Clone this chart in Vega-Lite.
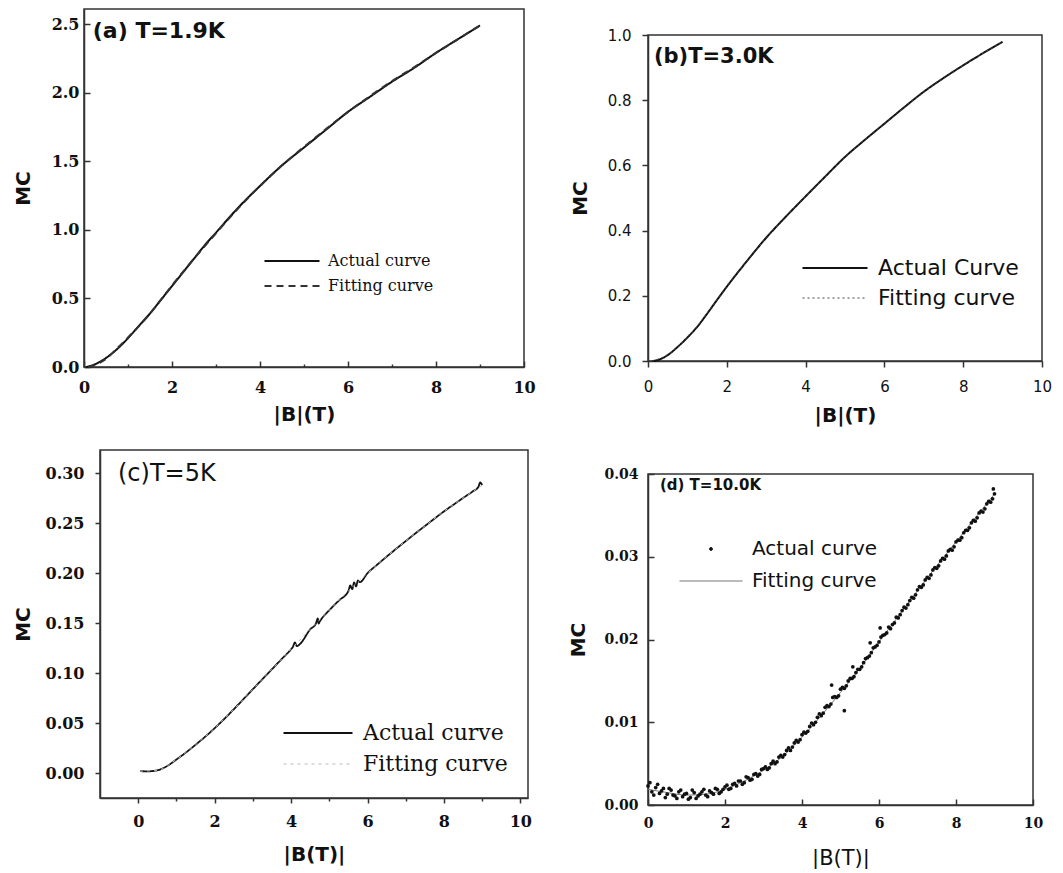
{
"$schema":"https://vega.github.io/schema/vega-lite/v6.json",
"background":"white",
"padding":{"left":11,"top":8,"right":0,"bottom":0},
"config":{"view":{"stroke":"#333","strokeWidth":1.5},"axis":{"grid":false,"domainColor":"#333","domainWidth":1.5,"tickColor":"#333","tickWidth":1.5,"labelColor":"#111","titleColor":"#111","labelFlush":false,"labelOverlap":false},"legend":{"padding":0}},
"datasets":{
"a":[
{"B":0.05,"MC":0,"s":"Actual curve"},{"B":0.25,"MC":0.02,"s":"Actual curve"},{"B":0.5,"MC":0.066,"s":"Actual curve"},{"B":0.75,"MC":0.13,"s":"Actual curve"},{"B":1,"MC":0.21,"s":"Actual curve"},{"B":1.25,"MC":0.30,"s":"Actual curve"},{"B":1.5,"MC":0.39,"s":"Actual curve"},{"B":1.75,"MC":0.49,"s":"Actual curve"},{"B":2,"MC":0.59,"s":"Actual curve"},{"B":2.25,"MC":0.69,"s":"Actual curve"},{"B":2.5,"MC":0.79,"s":"Actual curve"},{"B":2.75,"MC":0.89,"s":"Actual curve"},{"B":3,"MC":0.98,"s":"Actual curve"},{"B":3.5,"MC":1.16,"s":"Actual curve"},{"B":4,"MC":1.32,"s":"Actual curve"},{"B":4.5,"MC":1.47,"s":"Actual curve"},{"B":5,"MC":1.60,"s":"Actual curve"},{"B":5.5,"MC":1.73,"s":"Actual curve"},{"B":6,"MC":1.86,"s":"Actual curve"},{"B":6.5,"MC":1.97,"s":"Actual curve"},{"B":7,"MC":2.08,"s":"Actual curve"},{"B":7.5,"MC":2.18,"s":"Actual curve"},{"B":8,"MC":2.29,"s":"Actual curve"},{"B":8.5,"MC":2.39,"s":"Actual curve"},{"B":9,"MC":2.49,"s":"Actual curve"},
{"B":0.1,"MC":0,"s":"Fitting curve"},{"B":0.25,"MC":0.015,"s":"Fitting curve"},{"B":0.5,"MC":0.06,"s":"Fitting curve"},{"B":0.75,"MC":0.135,"s":"Fitting curve"},{"B":1,"MC":0.215,"s":"Fitting curve"},{"B":1.5,"MC":0.39,"s":"Fitting curve"},{"B":2,"MC":0.595,"s":"Fitting curve"},{"B":2.5,"MC":0.79,"s":"Fitting curve"},{"B":3,"MC":0.975,"s":"Fitting curve"},{"B":3.5,"MC":1.155,"s":"Fitting curve"},{"B":4,"MC":1.32,"s":"Fitting curve"},{"B":4.5,"MC":1.47,"s":"Fitting curve"},{"B":5,"MC":1.605,"s":"Fitting curve"},{"B":5.5,"MC":1.735,"s":"Fitting curve"},{"B":6,"MC":1.86,"s":"Fitting curve"},{"B":6.5,"MC":1.975,"s":"Fitting curve"},{"B":7,"MC":2.085,"s":"Fitting curve"},{"B":7.5,"MC":2.185,"s":"Fitting curve"},{"B":8,"MC":2.29,"s":"Fitting curve"},{"B":8.5,"MC":2.39,"s":"Fitting curve"},{"B":9,"MC":2.49,"s":"Fitting curve"}
],
"b":[
{"B":0.1,"MC":0,"s":"Actual Curve"},{"B":0.25,"MC":0.003,"s":"Actual Curve"},{"B":0.5,"MC":0.018,"s":"Actual Curve"},{"B":0.75,"MC":0.043,"s":"Actual Curve"},{"B":1,"MC":0.072,"s":"Actual Curve"},{"B":1.25,"MC":0.105,"s":"Actual Curve"},{"B":1.5,"MC":0.145,"s":"Actual Curve"},{"B":1.75,"MC":0.187,"s":"Actual Curve"},{"B":2,"MC":0.228,"s":"Actual Curve"},{"B":2.5,"MC":0.305,"s":"Actual Curve"},{"B":3,"MC":0.378,"s":"Actual Curve"},{"B":3.5,"MC":0.443,"s":"Actual Curve"},{"B":4,"MC":0.505,"s":"Actual Curve"},{"B":4.5,"MC":0.566,"s":"Actual Curve"},{"B":5,"MC":0.626,"s":"Actual Curve"},{"B":5.5,"MC":0.678,"s":"Actual Curve"},{"B":6,"MC":0.728,"s":"Actual Curve"},{"B":6.5,"MC":0.778,"s":"Actual Curve"},{"B":7,"MC":0.826,"s":"Actual Curve"},{"B":7.5,"MC":0.868,"s":"Actual Curve"},{"B":8,"MC":0.907,"s":"Actual Curve"},{"B":8.5,"MC":0.944,"s":"Actual Curve"},{"B":9,"MC":0.979,"s":"Actual Curve"},
{"B":0.1,"MC":0,"s":"Fitting curve"},{"B":0.5,"MC":0.019,"s":"Fitting curve"},{"B":1,"MC":0.073,"s":"Fitting curve"},{"B":1.5,"MC":0.146,"s":"Fitting curve"},{"B":2,"MC":0.229,"s":"Fitting curve"},{"B":2.5,"MC":0.305,"s":"Fitting curve"},{"B":3,"MC":0.378,"s":"Fitting curve"},{"B":3.5,"MC":0.443,"s":"Fitting curve"},{"B":4,"MC":0.505,"s":"Fitting curve"},{"B":4.5,"MC":0.566,"s":"Fitting curve"},{"B":5,"MC":0.626,"s":"Fitting curve"},{"B":5.5,"MC":0.678,"s":"Fitting curve"},{"B":6,"MC":0.728,"s":"Fitting curve"},{"B":6.5,"MC":0.778,"s":"Fitting curve"},{"B":7,"MC":0.826,"s":"Fitting curve"},{"B":7.5,"MC":0.868,"s":"Fitting curve"},{"B":8,"MC":0.907,"s":"Fitting curve"},{"B":8.5,"MC":0.944,"s":"Fitting curve"},{"B":9,"MC":0.979,"s":"Fitting curve"}
],
"c":[
{"B":0.05,"MC":0.0018,"s":"Actual curve"},{"B":0.25,"MC":0.0017,"s":"Actual curve"},{"B":0.5,"MC":0.0027,"s":"Actual curve"},{"B":0.75,"MC":0.0068,"s":"Actual curve"},{"B":1,"MC":0.0135,"s":"Actual curve"},{"B":1.25,"MC":0.0205,"s":"Actual curve"},{"B":1.5,"MC":0.0282,"s":"Actual curve"},{"B":1.75,"MC":0.0362,"s":"Actual curve"},{"B":2,"MC":0.0448,"s":"Actual curve"},{"B":2.25,"MC":0.054,"s":"Actual curve"},{"B":2.5,"MC":0.0637,"s":"Actual curve"},{"B":2.75,"MC":0.0737,"s":"Actual curve"},{"B":3,"MC":0.0838,"s":"Actual curve"},{"B":3.25,"MC":0.0938,"s":"Actual curve"},{"B":3.5,"MC":0.1038,"s":"Actual curve"},{"B":3.75,"MC":0.1138,"s":"Actual curve"},{"B":4,"MC":0.1238,"s":"Actual curve"},{"B":4.05,"MC":0.1262,"s":"Actual curve"},{"B":4.1,"MC":0.1305,"s":"Actual curve"},{"B":4.15,"MC":0.1268,"s":"Actual curve"},{"B":4.25,"MC":0.1297,"s":"Actual curve"},{"B":4.5,"MC":0.1437,"s":"Actual curve"},{"B":4.65,"MC":0.1495,"s":"Actual curve"},{"B":4.7,"MC":0.1545,"s":"Actual curve"},{"B":4.72,"MC":0.1495,"s":"Actual curve"},{"B":4.75,"MC":0.1515,"s":"Actual curve"},{"B":5,"MC":0.1628,"s":"Actual curve"},{"B":5.25,"MC":0.1724,"s":"Actual curve"},{"B":5.5,"MC":0.182,"s":"Actual curve"},{"B":5.55,"MC":0.1875,"s":"Actual curve"},{"B":5.6,"MC":0.1838,"s":"Actual curve"},{"B":5.65,"MC":0.1905,"s":"Actual curve"},{"B":5.7,"MC":0.1865,"s":"Actual curve"},{"B":5.75,"MC":0.1925,"s":"Actual curve"},{"B":5.8,"MC":0.1908,"s":"Actual curve"},{"B":6,"MC":0.1998,"s":"Actual curve"},{"B":6.25,"MC":0.2082,"s":"Actual curve"},{"B":6.5,"MC":0.2163,"s":"Actual curve"},{"B":6.75,"MC":0.2242,"s":"Actual curve"},{"B":7,"MC":0.2319,"s":"Actual curve"},{"B":7.25,"MC":0.2395,"s":"Actual curve"},{"B":7.5,"MC":0.2469,"s":"Actual curve"},{"B":7.75,"MC":0.2543,"s":"Actual curve"},{"B":8,"MC":0.2616,"s":"Actual curve"},{"B":8.25,"MC":0.2683,"s":"Actual curve"},{"B":8.5,"MC":0.275,"s":"Actual curve"},{"B":8.75,"MC":0.2815,"s":"Actual curve"},{"B":8.9,"MC":0.286,"s":"Actual curve"},{"B":8.95,"MC":0.2905,"s":"Actual curve"},{"B":9,"MC":0.2878,"s":"Actual curve"},
{"B":0.05,"MC":0.0018,"s":"Fitting curve"},{"B":0.5,"MC":0.0027,"s":"Fitting curve"},{"B":1,"MC":0.0135,"s":"Fitting curve"},{"B":1.5,"MC":0.0282,"s":"Fitting curve"},{"B":2,"MC":0.0448,"s":"Fitting curve"},{"B":2.5,"MC":0.0637,"s":"Fitting curve"},{"B":3,"MC":0.0838,"s":"Fitting curve"},{"B":3.5,"MC":0.1038,"s":"Fitting curve"},{"B":4,"MC":0.1238,"s":"Fitting curve"},{"B":4.5,"MC":0.1437,"s":"Fitting curve"},{"B":5,"MC":0.1628,"s":"Fitting curve"},{"B":5.5,"MC":0.182,"s":"Fitting curve"},{"B":6,"MC":0.1998,"s":"Fitting curve"},{"B":6.5,"MC":0.2163,"s":"Fitting curve"},{"B":7,"MC":0.2319,"s":"Fitting curve"},{"B":7.5,"MC":0.2469,"s":"Fitting curve"},{"B":8,"MC":0.2616,"s":"Fitting curve"},{"B":8.5,"MC":0.275,"s":"Fitting curve"},{"B":9,"MC":0.2875,"s":"Fitting curve"}
],
"dfit":[
{"B":0,"MC":0.0019,"s":"Fitting curve"},{"B":0.5,"MC":0.0015,"s":"Fitting curve"},{"B":1,"MC":0.0012,"s":"Fitting curve"},{"B":1.5,"MC":0.0013,"s":"Fitting curve"},{"B":2,"MC":0.0019,"s":"Fitting curve"},{"B":2.5,"MC":0.0029,"s":"Fitting curve"},{"B":3,"MC":0.0042,"s":"Fitting curve"},{"B":3.5,"MC":0.0059,"s":"Fitting curve"},{"B":4,"MC":0.0082,"s":"Fitting curve"},{"B":4.5,"MC":0.0108,"s":"Fitting curve"},{"B":5,"MC":0.0136,"s":"Fitting curve"},{"B":5.5,"MC":0.0165,"s":"Fitting curve"},{"B":6,"MC":0.0197,"s":"Fitting curve"},{"B":6.5,"MC":0.0228,"s":"Fitting curve"},{"B":7,"MC":0.0259,"s":"Fitting curve"},{"B":7.5,"MC":0.0289,"s":"Fitting curve"},{"B":8,"MC":0.0318,"s":"Fitting curve"},{"B":8.5,"MC":0.0347,"s":"Fitting curve"},{"B":9,"MC":0.0376,"s":"Fitting curve"}
],
"dact":[
{"B":0,"MC":0.0023},{"B":0.1,"MC":0.0016},{"B":0.2,"MC":0.0021},{"B":0.3,"MC":0.0014},{"B":0.4,"MC":0.002},{"B":0.5,"MC":0.0013},{"B":0.6,"MC":0.0018},{"B":0.7,"MC":0.0011},{"B":0.8,"MC":0.0016},{"B":0.9,"MC":0.001},{"B":1,"MC":0.0014},{"B":1.1,"MC":0.0009},{"B":1.2,"MC":0.0015},{"B":1.3,"MC":0.0011},{"B":1.4,"MC":0.0016},{"B":1.5,"MC":0.0012},{"B":1.6,"MC":0.0017},{"B":1.7,"MC":0.0013},{"B":1.8,"MC":0.0019},{"B":1.9,"MC":0.0016},{"B":2,"MC":0.0022},{"B":2.1,"MC":0.0019},{"B":2.2,"MC":0.0025},{"B":2.3,"MC":0.0023},{"B":2.4,"MC":0.0029},{"B":2.5,"MC":0.0027},{"B":2.6,"MC":0.0033},{"B":2.7,"MC":0.0031},{"B":2.8,"MC":0.0038},{"B":2.9,"MC":0.0037},{"B":3,"MC":0.0044},{"B":3.1,"MC":0.0043},{"B":3.2,"MC":0.005},{"B":3.3,"MC":0.005},{"B":3.4,"MC":0.0058},{"B":3.5,"MC":0.0058},{"B":3.6,"MC":0.0066},{"B":3.7,"MC":0.0066},{"B":3.8,"MC":0.0075},{"B":3.9,"MC":0.0076},{"B":4,"MC":0.0085},{"B":4.1,"MC":0.0087},{"B":4.2,"MC":0.0095},{"B":4.3,"MC":0.0097},{"B":4.4,"MC":0.0106},{"B":4.5,"MC":0.0108},{"B":4.6,"MC":0.0118},{"B":4.7,"MC":0.0119},{"B":4.8,"MC":0.013},{"B":4.9,"MC":0.013},{"B":5,"MC":0.014},{"B":5.1,"MC":0.0141},{"B":5.2,"MC":0.015},{"B":5.3,"MC":0.0153},{"B":5.4,"MC":0.016},{"B":5.5,"MC":0.0164},{"B":5.6,"MC":0.0172},{"B":5.7,"MC":0.0178},{"B":5.8,"MC":0.0184},{"B":5.9,"MC":0.0191},{"B":6,"MC":0.0197},{"B":6.1,"MC":0.0205},{"B":6.2,"MC":0.0208},{"B":6.3,"MC":0.0213},{"B":6.4,"MC":0.022},{"B":6.5,"MC":0.0226},{"B":6.6,"MC":0.0235},{"B":6.7,"MC":0.0238},{"B":6.8,"MC":0.0247},{"B":6.9,"MC":0.025},{"B":7,"MC":0.026},{"B":7.1,"MC":0.0263},{"B":7.2,"MC":0.0272},{"B":7.3,"MC":0.0274},{"B":7.4,"MC":0.0284},{"B":7.5,"MC":0.0286},{"B":7.6,"MC":0.0295},{"B":7.7,"MC":0.0297},{"B":7.8,"MC":0.0307},{"B":7.9,"MC":0.0308},{"B":8,"MC":0.0318},{"B":8.1,"MC":0.032},{"B":8.2,"MC":0.0329},{"B":8.3,"MC":0.0332},{"B":8.4,"MC":0.0341},{"B":8.5,"MC":0.0343},{"B":8.6,"MC":0.0353},{"B":8.7,"MC":0.0354},{"B":8.8,"MC":0.0364},{"B":8.9,"MC":0.0366},{"B":9,"MC":0.0376},
{"B":0.05,"MC":0.0027},{"B":0.15,"MC":0.0012},{"B":0.25,"MC":0.0025},{"B":0.35,"MC":0.0017},{"B":0.45,"MC":0.0009},{"B":0.55,"MC":0.002},{"B":0.65,"MC":0.0012},{"B":0.75,"MC":0.0008},{"B":0.85,"MC":0.0018},{"B":0.95,"MC":0.0013},{"B":1.05,"MC":0.0007},{"B":1.15,"MC":0.0018},{"B":1.25,"MC":0.0008},{"B":1.35,"MC":0.0013},{"B":1.45,"MC":0.0019},{"B":1.55,"MC":0.001},{"B":1.65,"MC":0.0015},{"B":1.75,"MC":0.002},{"B":1.85,"MC":0.0014},{"B":1.95,"MC":0.0019},{"B":2.05,"MC":0.0024},{"B":2.15,"MC":0.002},{"B":2.25,"MC":0.0026},{"B":2.35,"MC":0.0029},{"B":2.45,"MC":0.0025},{"B":2.55,"MC":0.0034},{"B":2.65,"MC":0.003},{"B":2.75,"MC":0.0037},{"B":2.85,"MC":0.0035},{"B":2.95,"MC":0.0043},
{"B":3.05,"MC":0.0046},{"B":3.15,"MC":0.0045},{"B":3.25,"MC":0.0053},{"B":3.35,"MC":0.0052},{"B":3.45,"MC":0.006},{"B":3.55,"MC":0.0061},{"B":3.65,"MC":0.0069},{"B":3.75,"MC":0.007},{"B":3.85,"MC":0.0078},{"B":3.95,"MC":0.0079},{"B":4.05,"MC":0.0088},{"B":4.15,"MC":0.0089},{"B":4.25,"MC":0.0099},{"B":4.35,"MC":0.01},{"B":4.45,"MC":0.011},{"B":4.55,"MC":0.0111},{"B":4.65,"MC":0.012},{"B":4.75,"MC":0.0122},{"B":4.85,"MC":0.0131},{"B":4.95,"MC":0.0132},{"B":5.05,"MC":0.0142},{"B":5.15,"MC":0.0144},{"B":5.25,"MC":0.0153},{"B":5.35,"MC":0.0155},{"B":5.45,"MC":0.0164},{"B":5.55,"MC":0.0167},{"B":5.65,"MC":0.0177},{"B":5.75,"MC":0.018},{"B":5.85,"MC":0.019},{"B":5.95,"MC":0.0193},{"B":6.05,"MC":0.0203},{"B":6.15,"MC":0.0206},{"B":6.25,"MC":0.0215},{"B":6.35,"MC":0.0218},{"B":6.45,"MC":0.0227},{"B":6.55,"MC":0.023},{"B":6.65,"MC":0.0239},{"B":6.75,"MC":0.0242},{"B":6.85,"MC":0.0251},{"B":6.95,"MC":0.0254},{"B":7.05,"MC":0.0264},{"B":7.15,"MC":0.0266},{"B":7.25,"MC":0.0275},{"B":7.35,"MC":0.0278},{"B":7.45,"MC":0.0287},{"B":7.55,"MC":0.0289},{"B":7.65,"MC":0.0298},{"B":7.75,"MC":0.0301},{"B":7.85,"MC":0.0309},{"B":7.95,"MC":0.0312},{"B":8.05,"MC":0.032},{"B":8.15,"MC":0.0323},{"B":8.25,"MC":0.0332},{"B":8.35,"MC":0.0335},{"B":8.45,"MC":0.0344},{"B":8.55,"MC":0.0347},{"B":8.65,"MC":0.0355},{"B":8.75,"MC":0.0358},{"B":8.85,"MC":0.0367},{"B":8.95,"MC":0.037},
{"B":4.77,"MC":0.0145},{"B":5.1,"MC":0.0114},{"B":5.32,"MC":0.0167},{"B":5.77,"MC":0.0196},{"B":6.03,"MC":0.0214},{"B":8.97,"MC":0.0382}
],
"blank":[{"k":0}]
},
"resolve":{"scale":{"x":"independent","y":"independent","color":"independent","strokeDash":"independent","strokeWidth":"independent"},"axis":{"x":"independent","y":"independent"},"legend":{"color":"independent","strokeDash":"independent"}},
"spacing":23,
"vconcat":[
{"spacing":0,
 "resolve":{"scale":{"x":"independent","y":"independent","color":"independent","strokeDash":"independent","strokeWidth":"independent"},"axis":{"x":"independent","y":"independent"},"legend":{"color":"independent","strokeDash":"independent"}},
 "hconcat":[
{"width":1,"height":20,"data":{"name":"blank"},"mark":{"type":"text","text":""},"view":{"stroke":null}},
{"resolve":{"scale":{"x":"independent","y":"independent","color":"independent","strokeDash":"independent","strokeWidth":"independent"},"axis":{"x":"independent","y":"independent"},"legend":{"color":"independent","strokeDash":"independent"}},
 "spacing":33,
 "hconcat":[
{"width":440,"height":358,
 "layer":[
 {"data":{"name":"a"},
  "mark":{"type":"line","strokeWidth":2,"interpolate":"monotone"},
  "encoding":{
   "x":{"field":"B","type":"quantitative","scale":{"domain":[0,10],"nice":false,"zero":false},
    "axis":{"values":[0,1,2,3,4,5,6,7,8,9,10],"format":"d","labelExpr":"datum.value % 2 === 0 ? datum.label : ''","tickSize":{"condition":{"test":"datum.value % 2 === 0","value":-6},"value":-3},"labelPadding":18,"labelOverlap":false,"labelFont":"DejaVu Serif","labelFontWeight":"bold","labelFontSize":16,"title":"|B|(T)","titleFont":"DejaVu Sans","titleFontWeight":"bold","titleFontSize":20,"titlePadding":6}},
   "y":{"field":"MC","type":"quantitative","scale":{"domain":[0,2.61],"nice":false,"zero":false},
    "axis":{"values":[0,0.25,0.5,0.75,1,1.25,1.5,1.75,2,2.25,2.5],"format":".1f","labelExpr":"abs(datum.value*2-round(datum.value*2))<1e-6 ? datum.label : ''","tickSize":{"condition":{"test":"abs(datum.value*2-round(datum.value*2))<1e-6","value":-6},"value":-3},"labelPadding":11,"labelOverlap":false,"labelFont":"DejaVu Serif","labelFontWeight":"bold","labelFontSize":16,"title":"MC","titleFont":"DejaVu Sans","titleFontWeight":"bold","titleFontSize":20,"titlePadding":18}},
   "color":{"field":"s","type":"nominal","scale":{"domain":["Actual curve","Fitting curve"],"range":["#111","#333"]},
    "legend":{"orient":"none","legendX":200,"legendY":244,"title":null,"symbolType":"M-5.5,0H5.5","symbolSize":100,"symbolStrokeWidth":2,"labelFont":"DejaVu Serif","labelFontSize":16,"labelColor":"#111","labelOffset":28,"rowPadding":9}},
   "strokeDash":{"field":"s","type":"nominal","scale":{"domain":["Actual curve","Fitting curve"],"range":[[1,0],[7,5]]},
    "legend":{"orient":"none","legendX":200,"legendY":244,"title":null,"symbolType":"M-5.5,0H5.5","symbolSize":100,"symbolStrokeWidth":2,"labelFont":"DejaVu Serif","labelFontSize":16,"labelColor":"#111","labelOffset":28,"rowPadding":9}}
  }},
 {"data":{"values":[{"t":"(a) T=1.9K"}]},
  "mark":{"type":"text","align":"left","baseline":"middle","font":"DejaVu Sans","fontWeight":"bold","fontSize":22,"color":"#111"},
  "encoding":{"x":{"datum":0.2,"type":"quantitative"},"y":{"datum":2.45,"type":"quantitative"},"text":{"field":"t"}}}
 ]},
{"spacing":0,
 "resolve":{"scale":{"x":"independent","y":"independent"},"axis":{"x":"independent","y":"independent"}},
 "vconcat":[
{"width":394,"height":18,"data":{"name":"blank"},"mark":{"type":"text","text":""},"view":{"stroke":null}},
{"width":394,"height":326,
 "layer":[
 {"data":{"name":"b"},
  "mark":{"type":"line","interpolate":"monotone"},
  "encoding":{
   "x":{"field":"B","type":"quantitative","scale":{"domain":[0,10],"nice":false,"zero":false},
    "axis":{"values":[0,1,2,3,4,5,6,7,8,9,10],"format":"d","labelExpr":"datum.value % 2 === 0 ? datum.label : ''","tickSize":{"condition":{"test":"datum.value % 2 === 0","value":6},"value":3},"labelPadding":12,"labelOverlap":false,"labelFont":"DejaVu Sans","labelFontSize":15,"title":"|B|(T)","titleFont":"DejaVu Sans","titleFontWeight":"bold","titleFontSize":20,"titlePadding":11}},
   "y":{"field":"MC","type":"quantitative","scale":{"domain":[0,1],"nice":false,"zero":false},
    "axis":{"values":[0,0.1,0.2,0.3,0.4,0.5,0.6,0.7,0.8,0.9,1],"format":".1f","labelExpr":"abs(datum.value*5-round(datum.value*5))<1e-6 ? datum.label : ''","tickSize":{"condition":{"test":"abs(datum.value*5-round(datum.value*5))<1e-6","value":6},"value":3},"labelPadding":11,"labelOverlap":false,"labelFont":"DejaVu Sans","labelFontSize":15,"title":"MC","titleFont":"DejaVu Sans","titleFontWeight":"bold","titleFontSize":20,"titlePadding":17}},
   "color":{"field":"s","type":"nominal","scale":{"domain":["Actual Curve","Fitting curve"],"range":["#111","#444"]},
    "legend":{"orient":"none","legendX":176,"legendY":248,"title":null,"symbolType":"M-6.5,0H6.5","symbolSize":100,"symbolStrokeWidth":2,"labelFont":"DejaVu Sans","labelFontSize":22,"labelColor":"#111","labelOffset":32,"rowPadding":8}},
   "strokeDash":{"field":"s","type":"nominal","scale":{"domain":["Actual Curve","Fitting curve"],"range":[[1,0],[2,3]]},
    "legend":{"orient":"none","legendX":176,"legendY":248,"title":null,"symbolType":"M-6.5,0H6.5","symbolSize":100,"symbolStrokeWidth":2,"labelFont":"DejaVu Sans","labelFontSize":22,"labelColor":"#111","labelOffset":32,"rowPadding":8}},
   "strokeWidth":{"field":"s","type":"nominal","scale":{"domain":["Actual Curve","Fitting curve"],"range":[2,1]},"legend":null}
  }},
 {"data":{"values":[{"t":"(b)T=3.0K"}]},
  "mark":{"type":"text","align":"left","baseline":"middle","font":"DejaVu Sans","fontWeight":"bold","fontSize":21,"color":"#111"},
  "encoding":{"x":{"datum":0.15,"type":"quantitative"},"y":{"datum":0.933,"type":"quantitative"},"text":{"field":"t"}}}
 ]}
]}
]}
]},
{"spacing":0,
 "resolve":{"scale":{"x":"independent","y":"independent","color":"independent","strokeDash":"independent","strokeWidth":"independent"},"axis":{"x":"independent","y":"independent"},"legend":{"color":"independent","strokeDash":"independent"}},
 "hconcat":[
{"width":1,"height":20,"data":{"name":"blank"},"mark":{"type":"text","text":""},"view":{"stroke":null}},
{"resolve":{"scale":{"x":"independent","y":"independent","color":"independent","strokeDash":"independent","strokeWidth":"independent"},"axis":{"x":"independent","y":"independent"},"legend":{"color":"independent","strokeDash":"independent"}},
 "spacing":35,
 "hconcat":[
{"width":428,"height":348,
 "layer":[
 {"data":{"name":"c"},
  "mark":{"type":"line","interpolate":"monotone"},
  "encoding":{
   "x":{"field":"B","type":"quantitative","scale":{"domain":[-1,10.2],"nice":false,"zero":false},
    "axis":{"values":[0,1,2,3,4,5,6,7,8,9,10],"format":"d","labelExpr":"datum.value % 2 === 0 ? datum.label : ''","tickSize":{"condition":{"test":"datum.value % 2 === 0","value":5},"value":3},"labelPadding":10,"labelOverlap":false,"labelFont":"DejaVu Serif","labelFontWeight":"bold","labelFontSize":16,"title":"|B(T)|","titleFont":"DejaVu Sans","titleFontWeight":"bold","titleFontSize":20,"titlePadding":15}},
   "y":{"field":"MC","type":"quantitative","scale":{"domain":[-0.025,0.323],"nice":false,"zero":false},
    "axis":{"values":[0,0.025,0.05,0.075,0.1,0.125,0.15,0.175,0.2,0.225,0.25,0.275,0.3],"format":".2f","labelExpr":"abs(datum.value*20-round(datum.value*20))<1e-6 ? datum.label : ''","tickSize":{"condition":{"test":"abs(datum.value*20-round(datum.value*20))<1e-6","value":5},"value":3},"labelPadding":11,"labelOverlap":false,"labelFont":"DejaVu Serif","labelFontWeight":"bold","labelFontSize":16,"title":"MC","titleFont":"DejaVu Sans","titleFontWeight":"bold","titleFontSize":20,"titlePadding":12}},
   "color":{"field":"s","type":"nominal","scale":{"domain":["Actual curve","Fitting curve"],"range":["#111","#bbb"]},
    "legend":{"orient":"none","legendX":207,"legendY":272,"title":null,"symbolType":"M-6.9,0H6.9","symbolSize":100,"symbolStrokeWidth":1.5,"labelFont":"DejaVu Serif","labelFontSize":22,"labelColor":"#111","labelOffset":34,"rowPadding":9}},
   "strokeDash":{"field":"s","type":"nominal","scale":{"domain":["Actual curve","Fitting curve"],"range":[[1,0],[3,4]]},
    "legend":{"orient":"none","legendX":207,"legendY":272,"title":null,"symbolType":"M-6.9,0H6.9","symbolSize":100,"symbolStrokeWidth":1.5,"labelFont":"DejaVu Serif","labelFontSize":22,"labelColor":"#111","labelOffset":34,"rowPadding":9}},
   "strokeWidth":{"field":"s","type":"nominal","scale":{"domain":["Actual curve","Fitting curve"],"range":[1.8,1]},"legend":null}
  }},
 {"data":{"values":[{"t":"(c)T=5K"}]},
  "mark":{"type":"text","align":"left","baseline":"middle","font":"DejaVu Sans","fontSize":24,"color":"#111"},
  "encoding":{"x":{"datum":-0.53,"type":"quantitative"},"y":{"datum":0.299,"type":"quantitative"},"text":{"field":"t"}}}
 ]},
{"spacing":0,
 "resolve":{"scale":{"x":"independent","y":"independent"},"axis":{"x":"independent","y":"independent"}},
 "vconcat":[
{"width":385,"height":16,"data":{"name":"blank"},"mark":{"type":"text","text":""},"view":{"stroke":null}},
{"width":385,"height":331,
 "layer":[
 {"data":{"name":"dfit"},
  "mark":{"type":"line","interpolate":"monotone","strokeWidth":1},
  "encoding":{
   "x":{"field":"B","type":"quantitative","scale":{"domain":[0,10],"nice":false,"zero":false},
    "axis":{"values":[0,0.5,1,1.5,2,2.5,3,3.5,4,4.5,5,5.5,6,6.5,7,7.5,8,8.5,9,9.5,10],"format":"d","labelExpr":"datum.value % 2 === 0 ? datum.label : ''","tickSize":{"condition":{"test":"datum.value % 2 === 0","value":-6},"value":-3},"labelPadding":17,"labelOverlap":false,"labelFont":"DejaVu Serif","labelFontWeight":"bold","labelFontSize":14,"title":"|B(T)|","titleFont":"DejaVu Sans","titleFontWeight":"normal","titleFontSize":21,"titlePadding":17}},
   "y":{"field":"MC","type":"quantitative","scale":{"domain":[0,0.04],"nice":false,"zero":false},
    "axis":{"values":[0,0.01,0.02,0.03,0.04],"format":".2f","tickSize":-6,"labelPadding":16,"labelOverlap":false,"labelFont":"DejaVu Serif","labelFontWeight":"bold","labelFontSize":14,"title":"MC","titleFont":"DejaVu Sans","titleFontWeight":"bold","titleFontSize":20,"titlePadding":15}},
   "color":{"field":"s","type":"nominal","scale":{"domain":["Actual curve","Fitting curve"],"range":["#111","#777"]},
    "legend":{"orient":"none","legendX":53,"legendY":89,"title":null,"symbolSize":100,"labelFont":"DejaVu Sans","labelFontSize":20,"labelColor":"#111","labelOffset":31,"rowPadding":12,
     "encode":{"symbols":{"update":{
       "shape":{"signal":"datum.label === 'Actual curve' ? 'circle' : 'M-6.3,0H6.3'"},
       "size":{"signal":"datum.label === 'Actual curve' ? 8 : 100"},
       "fill":{"signal":"datum.label === 'Actual curve' ? '#111' : 'transparent'"},
       "stroke":{"signal":"datum.label === 'Actual curve' ? 'transparent' : '#777'"},
       "strokeWidth":{"value":1}}}}}}
  }},
 {"data":{"name":"dact"},
  "mark":{"type":"point","filled":true,"size":14,"opacity":1},
  "encoding":{"x":{"field":"B","type":"quantitative"},"y":{"field":"MC","type":"quantitative"},
   "color":{"datum":"Actual curve","type":"nominal"}}},
 {"data":{"values":[{"t":"(d) T=10.0K"}]},
  "mark":{"type":"text","align":"left","baseline":"middle","font":"DejaVu Sans","fontWeight":"bold","fontSize":15,"color":"#111"},
  "encoding":{"x":{"datum":0.31,"type":"quantitative"},"y":{"datum":0.0387,"type":"quantitative"},"text":{"field":"t"}}}
 ]}
]}
]}
]}
]
}
